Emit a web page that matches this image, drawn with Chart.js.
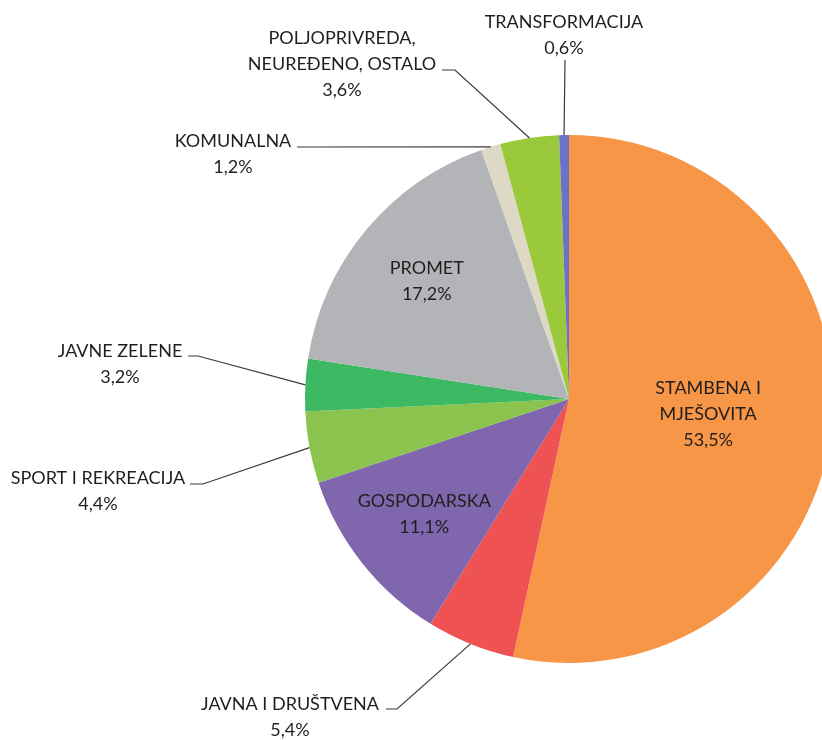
<!DOCTYPE html>
<html>
<head>
<meta charset="utf-8">
<script src="https://cdn.jsdelivr.net/npm/chart.js@4.4.1/dist/chart.umd.min.js"></script>
<style>
  html, body { margin: 0; padding: 0; background: #fff; overflow: hidden; }
  #wrap { position: relative; width: 822px; height: 740px; overflow: hidden; }
  canvas { position: absolute; left: 0; top: 0; }
</style>
</head>
<body>
<div id="wrap"><canvas id="pie" width="1140" height="740"></canvas></div>
<script>
// Land-use categories (clockwise from 12 o'clock) and their shares in percent
const categories = [
  'STAMBENA I MJEŠOVITA', 'JAVNA I DRUŠTVENA', 'GOSPODARSKA', 'SPORT I REKREACIJA',
  'JAVNE ZELENE', 'PROMET', 'KOMUNALNA', 'POLJOPRIVREDA, NEUREĐENO, OSTALO', 'TRANSFORMACIJA'
];
const nameLines = [
  ['STAMBENA I', 'MJEŠOVITA'], ['JAVNA I DRUŠTVENA'], ['GOSPODARSKA'], ['SPORT I REKREACIJA'],
  ['JAVNE ZELENE'], ['PROMET'], ['KOMUNALNA'], ['POLJOPRIVREDA,', 'NEUREĐENO, OSTALO'], ['TRANSFORMACIJA']
];
const shares = [53.5, 5.4, 11.1, 4.4, 3.2, 17.2, 1.2, 3.6, 0.6];
const sliceColors = ['#F79646', '#EE5253', '#7F66AD', '#8BC34F', '#3DB863', '#B3B4B8', '#DDD9C4', '#9ACA3C', '#6A74C6'];

const fmt = v => v.toFixed(1).replace('.', ',') + '%';

// Label placement: inside labels sit at a fraction of the radius along the slice bisector,
// outside labels are text blocks joined to the slice edge by a leader line.
const labelPlacement = [
  { inside: 0.53 },
  { x: 290, y: 704, leader: [[386, 709], [397, 709]] },
  { inside: 0.70 },
  { x: 98, y: 478, leader: [[190, 484], [203, 484]] },
  { x: 120, y: 351, leader: [[188, 356], [198, 356]] },
  { inside: 0.70 },
  { x: 233, y: 141, leader: [[297, 147]] },
  { x: 342, y: 38, leader: [[442, 70], [455, 70]] },
  { x: 564, y: 22, leader: [[565, 60]] }
];

const FONT = '18px Lato, "Open Sans", sans-serif';
const LINE_H = 26;

const calloutPlugin = {
  id: 'callouts',
  afterDatasetsDraw(chart) {
    const ctx = chart.ctx;
    const arcs = chart.getDatasetMeta(0).data;
    ctx.save();
    ctx.font = FONT;
    ctx.fillStyle = '#1f1f1f';
    ctx.textAlign = 'center';
    ctx.textBaseline = 'middle';
    arcs.forEach((arc, i) => {
      const p = arc.getProps(['x', 'y', 'startAngle', 'endAngle', 'outerRadius'], true);
      const mid = (p.startAngle + p.endAngle) / 2;
      const lines = nameLines[i].concat([fmt(shares[i])]);
      const place = labelPlacement[i];
      let cx, cy;
      if (place.inside) {
        const r = p.outerRadius * place.inside;
        cx = p.x + Math.cos(mid) * r;
        cy = p.y + Math.sin(mid) * r - (lines.length - 1) * LINE_H / 2;
      } else {
        cx = place.x;
        cy = place.y;
        const edgeX = p.x + Math.cos(mid) * p.outerRadius;
        const edgeY = p.y + Math.sin(mid) * p.outerRadius;
        ctx.beginPath();
        ctx.strokeStyle = '#3a3a3a';
        ctx.lineWidth = 1.2;
        place.leader.forEach((pt, k) => k === 0 ? ctx.moveTo(pt[0], pt[1]) : ctx.lineTo(pt[0], pt[1]));
        ctx.lineTo(edgeX, edgeY);
        ctx.stroke();
      }
      lines.forEach((t, k) => ctx.fillText(t, cx, cy + k * LINE_H));
    });
    ctx.restore();
  }
};

new Chart(document.getElementById('pie'), {
  type: 'pie',
  data: {
    labels: categories,
    datasets: [{
      data: shares,
      backgroundColor: sliceColors,
      borderWidth: 0,
      hoverBorderWidth: 0,
      hoverOffset: 0
    }]
  },
  options: {
    responsive: false,
    animation: false,
    devicePixelRatio: 1,
    events: [],
    layout: { padding: { left: 305, right: 307, top: 135, bottom: 77 } },
    plugins: { legend: { display: false }, tooltip: { enabled: false } }
  },
  plugins: [calloutPlugin]
});
</script>
</body>
</html>
